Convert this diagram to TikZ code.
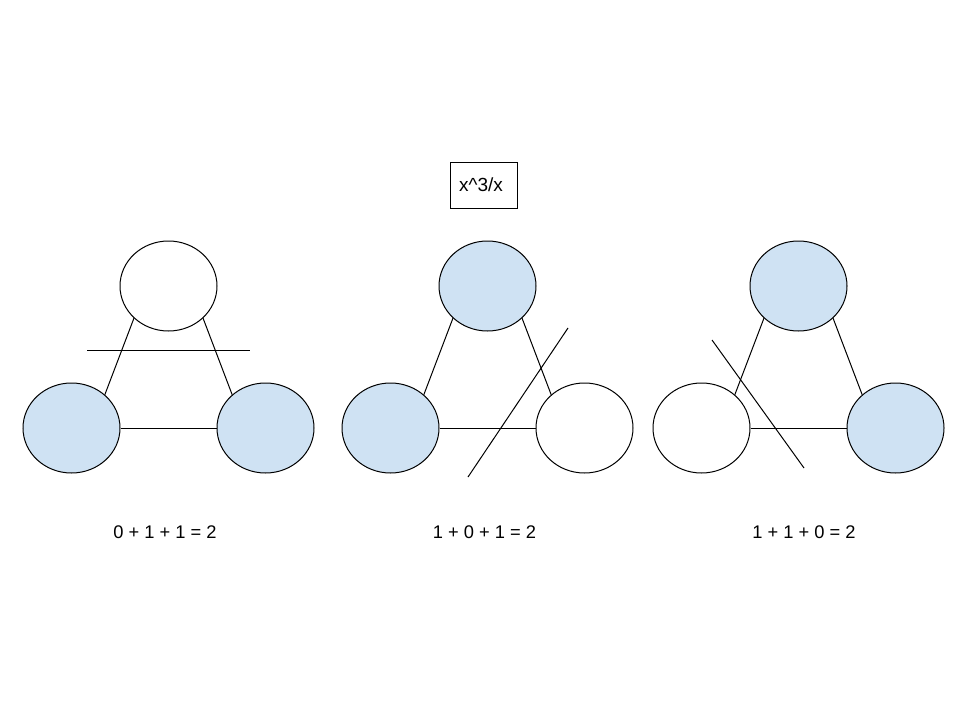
\documentclass[tikz,border=0pt]{standalone}
\usepackage{fontspec}
\setmainfont{Liberation Sans}
\usetikzlibrary{shapes.geometric}
\definecolor{lblue}{HTML}{CFE2F3}
\tikzset{
  vtx/.style={ellipse, draw=black, line width=1pt, minimum width=97pt, minimum height=90pt, inner sep=0pt},
  on/.style={vtx, fill=lblue},
  off/.style={vtx, fill=white},
  edge/.style={draw=black, line width=1pt},
  cut/.style={draw=black, line width=1pt},
  lbl/.style={font=\fontsize{18.3pt}{21pt}\selectfont, inner sep=0pt},
  boxnode/.style={draw=black, line width=1pt, minimum width=67pt, minimum height=46pt, inner sep=0pt, font=\fontsize{19pt}{22pt}\selectfont}
}
\begin{document}
\begin{tikzpicture}[x=1pt,y=-1pt]
\useasboundingbox[fill=white] (0,0) rectangle (960,720);
% box
\node[boxnode] (f) at (483.5,185) {x\^{}3/x\kern5pt};
% group 1
\node[off] (t1) at (168.5,286) {};
\node[on]  (l1) at (71.5,428) {};
\node[on]  (r1) at (265.5,428) {};
\draw[edge] (t1.223) -- (l1.45);
\draw[edge] (t1.317) -- (r1.135);
\draw[edge] (l1.east) -- (r1.west);
\coordinate (c1a) at (87,350);
\coordinate (c1b) at (250,350);
\draw[cut] (c1a) -- (c1b);
\node[lbl] (s1) at (165,532) {0 + 1 + 1 = 2};
% group 2
\node[on]  (t2) at (487.5,286) {};
\node[on]  (l2) at (390.5,428) {};
\node[off] (r2) at (584.5,428) {};
\draw[edge] (t2.223) -- (l2.45);
\draw[edge] (t2.317) -- (r2.135);
\draw[edge] (l2.east) -- (r2.west);
\coordinate (c2a) at (468,477);
\coordinate (c2b) at (568,328);
\draw[cut] (c2a) -- (c2b);
\node[lbl] (s2) at (484.5,532) {1 + 0 + 1 = 2};
% group 3
\node[on]  (t3) at (798.5,286) {};
\node[off] (l3) at (701.5,428) {};
\node[on]  (r3) at (895.5,428) {};
\draw[edge] (t3.223) -- (l3.45);
\draw[edge] (t3.317) -- (r3.135);
\draw[edge] (l3.east) -- (r3.west);
\coordinate (c3a) at (712,340);
\coordinate (c3b) at (804,468);
\draw[cut] (c3a) -- (c3b);
\node[lbl] (s3) at (804,532) {1 + 1 + 0 = 2};
\end{tikzpicture}
\end{document}
